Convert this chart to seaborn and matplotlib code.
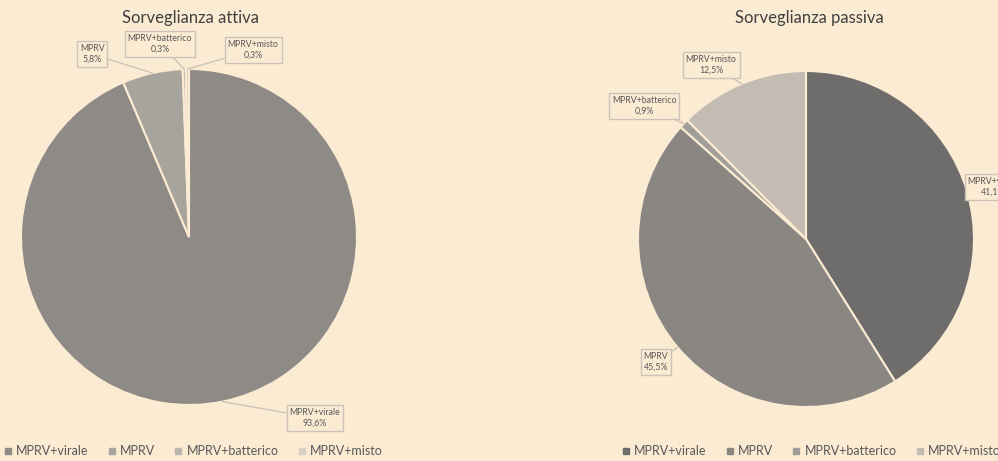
import numpy as np
import matplotlib.pyplot as plt
import seaborn as sns
from matplotlib.lines import Line2D

# --- data ---
categories = ['MPRV+virale', 'MPRV', 'MPRV+batterico', 'MPRV+misto']
attiva_pct = [93.6, 5.8, 0.3, 0.3]
passiva_pct = [41.1, 45.5, 0.9, 12.5]
titles = ['Sorveglianza attiva', 'Sorveglianza passiva']

# --- style ---
bg = '#fbebd3'
sns.set_theme(style='white')
plt.rcParams['font.family'] = ['Lato', 'DejaVu Sans']
colors_attiva = ['#8e8a85', '#a7a39d', '#bdb7af', '#d7d0c5']
colors_passiva = ['#6e6d6b', '#8a8783', '#a19d98', '#c4bcb2']
line_col = '#cbc3b7'
text_col = '#595959'

fig = plt.figure(figsize=(9.98, 4.61), dpi=100)
fig.patch.set_facecolor(bg)
W, H = 998, 461
R = 168


def make_ax(cx, cy):
    return fig.add_axes([(cx - R) / W, (H - cy - R) / H, 2 * R / W, 2 * R / H])


# label box centres in radius units (layout only)
label_pos = {
    0: [(0.75, -1.077), (-0.577, 1.089), (-0.173, 1.149), (0.381, 1.113)],
    1: [(1.113, 0.31), (-0.893, -0.732), (-0.964, 0.792), (-0.565, 1.036)],
}

axes = [make_ax(189, 237), make_ax(806, 239)]
for i, (ax, vals, cols) in enumerate(zip(axes, [attiva_pct, passiva_pct],
                                          [colors_attiva, colors_passiva])):
    ax.set_facecolor(bg)
    wedges, _ = ax.pie(vals, colors=cols, startangle=90, counterclock=False,
                       radius=1, wedgeprops=dict(edgecolor=bg, linewidth=1.5))
    ax.set_xlim(-1, 1)
    ax.set_ylim(-1, 1)
    ax.axis('off')
    for j, w in enumerate(wedges):
        ang = np.deg2rad((w.theta1 + w.theta2) / 2)
        xy = (np.cos(ang), np.sin(ang))
        txt = f"{categories[j]}\n{vals[j]:.1f}%".replace('.', ',')
        ax.annotate(txt, xy=xy, xytext=label_pos[i][j], ha='center', va='center',
                    fontsize=6.3, color=text_col, annotation_clip=False,
                    linespacing=1.3,
                    bbox=dict(boxstyle='square,pad=0.35', fc=bg, ec=line_col, lw=1),
                    arrowprops=dict(arrowstyle='-', color=line_col, lw=1,
                                    shrinkA=0, shrinkB=0))

    handles = [Line2D([0], [0], marker='s', linestyle='', markersize=4.5,
                      markerfacecolor=c, markeredgecolor=c) for c in cols]
    leg_x = [193, 811][i]
    fig.legend(handles, categories, loc='center', ncol=4, frameon=False,
               bbox_to_anchor=(leg_x / W, 1 - 451 / H), fontsize=9,
               labelcolor=text_col, handletextpad=0.3, columnspacing=1.5,
               handlelength=0.7, borderpad=0, borderaxespad=0)
    fig.text([190, 809][i] / W, 1 - 18 / H, titles[i], ha='center', va='center',
             fontsize=12, color='#404040')

fig.savefig('out.png', dpi=100, facecolor=bg)
